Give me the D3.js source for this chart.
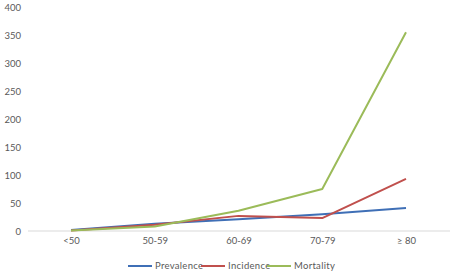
<!DOCTYPE html>
<html>
<head>
<meta charset="utf-8">
<script src="https://d3js.org/d3.v7.min.js"></script>
<style>
	body { margin: 0; background: #fff; }
	text { font-family: Lato, "Open Sans", sans-serif; fill: #595959; font-size: 9.5px; }
</style>
</head>
<body>
<svg width="454" height="278"></svg>
<script>
	var categories = ["<50", "50-59", "60-69", "70-79", "\u2265 80"];
	var prevalence = [2, 13, 21, 30, 41];
	var incidence = [1, 11, 27, 23, 93];
	var mortality = [1, 8, 36, 75, 355];
	var yTicks = [0, 50, 100, 150, 200, 250, 300, 350, 400];

	var series = [
		{ name: "Prevalence", values: prevalence, color: "#3F6FB6" },
		{ name: "Incidence", values: incidence, color: "#C0504D" },
		{ name: "Mortality", values: mortality, color: "#9BBB59" }
	];

	var svg = d3.select("svg");

	var x = d3.scalePoint()
		.domain(categories)
		.range([71, 406]);

	var y = d3.scaleLinear()
		.domain([0, 400])
		.range([231, 7]);

	// baseline
	svg.append("line")
		.attr("x1", 28).attr("x2", 450)
		.attr("y1", y(0)).attr("y2", y(0))
		.attr("stroke", "#d9d9d9").attr("stroke-width", 1);

	// y labels
	var yAxis = svg.append("g")
		.attr("transform", "translate(21,0)")
		.call(d3.axisLeft(y).tickValues(yTicks).tickSize(0).tickPadding(0));
	yAxis.select(".domain").remove();
	yAxis.selectAll("text").attr("font-size", null).attr("font-family", null);

	// x labels
	var xAxis = svg.append("g")
		.attr("transform", "translate(0," + (y(0) + 6) + ")")
		.call(d3.axisBottom(x).tickSize(0).tickPadding(0));
	xAxis.select(".domain").remove();
	xAxis.selectAll("text").attr("font-size", null).attr("font-family", null);

	var line = d3.line()
		.x(function(d, i) { return x(categories[i]); })
		.y(function(d) { return y(d); });

	svg.selectAll("path.series")
		.data(series)
		.enter()
		.append("path")
		.attr("class", "series")
		.attr("d", function(d) { return line(d.values); })
		.attr("fill", "none")
		.attr("stroke", function(d) { return d.color; })
		.attr("stroke-width", 2)
		.attr("stroke-linejoin", "round");

	// legend
	var legendX = [128, 201, 267];
	var legend = svg.selectAll("g.legend")
		.data(series)
		.enter()
		.append("g")
		.attr("class", "legend")
		.attr("transform", function(d, i) { return "translate(" + legendX[i] + ",266)"; });

	legend.append("line")
		.attr("x1", 0).attr("x2", 24)
		.attr("stroke", function(d) { return d.color; })
		.attr("stroke-width", 2);

	legend.append("text")
		.attr("x", 27)
		.attr("dy", "0.35em")
		.style("letter-spacing", "0.3px")
		.text(function(d) { return d.name; });
</script>
</body>
</html>
